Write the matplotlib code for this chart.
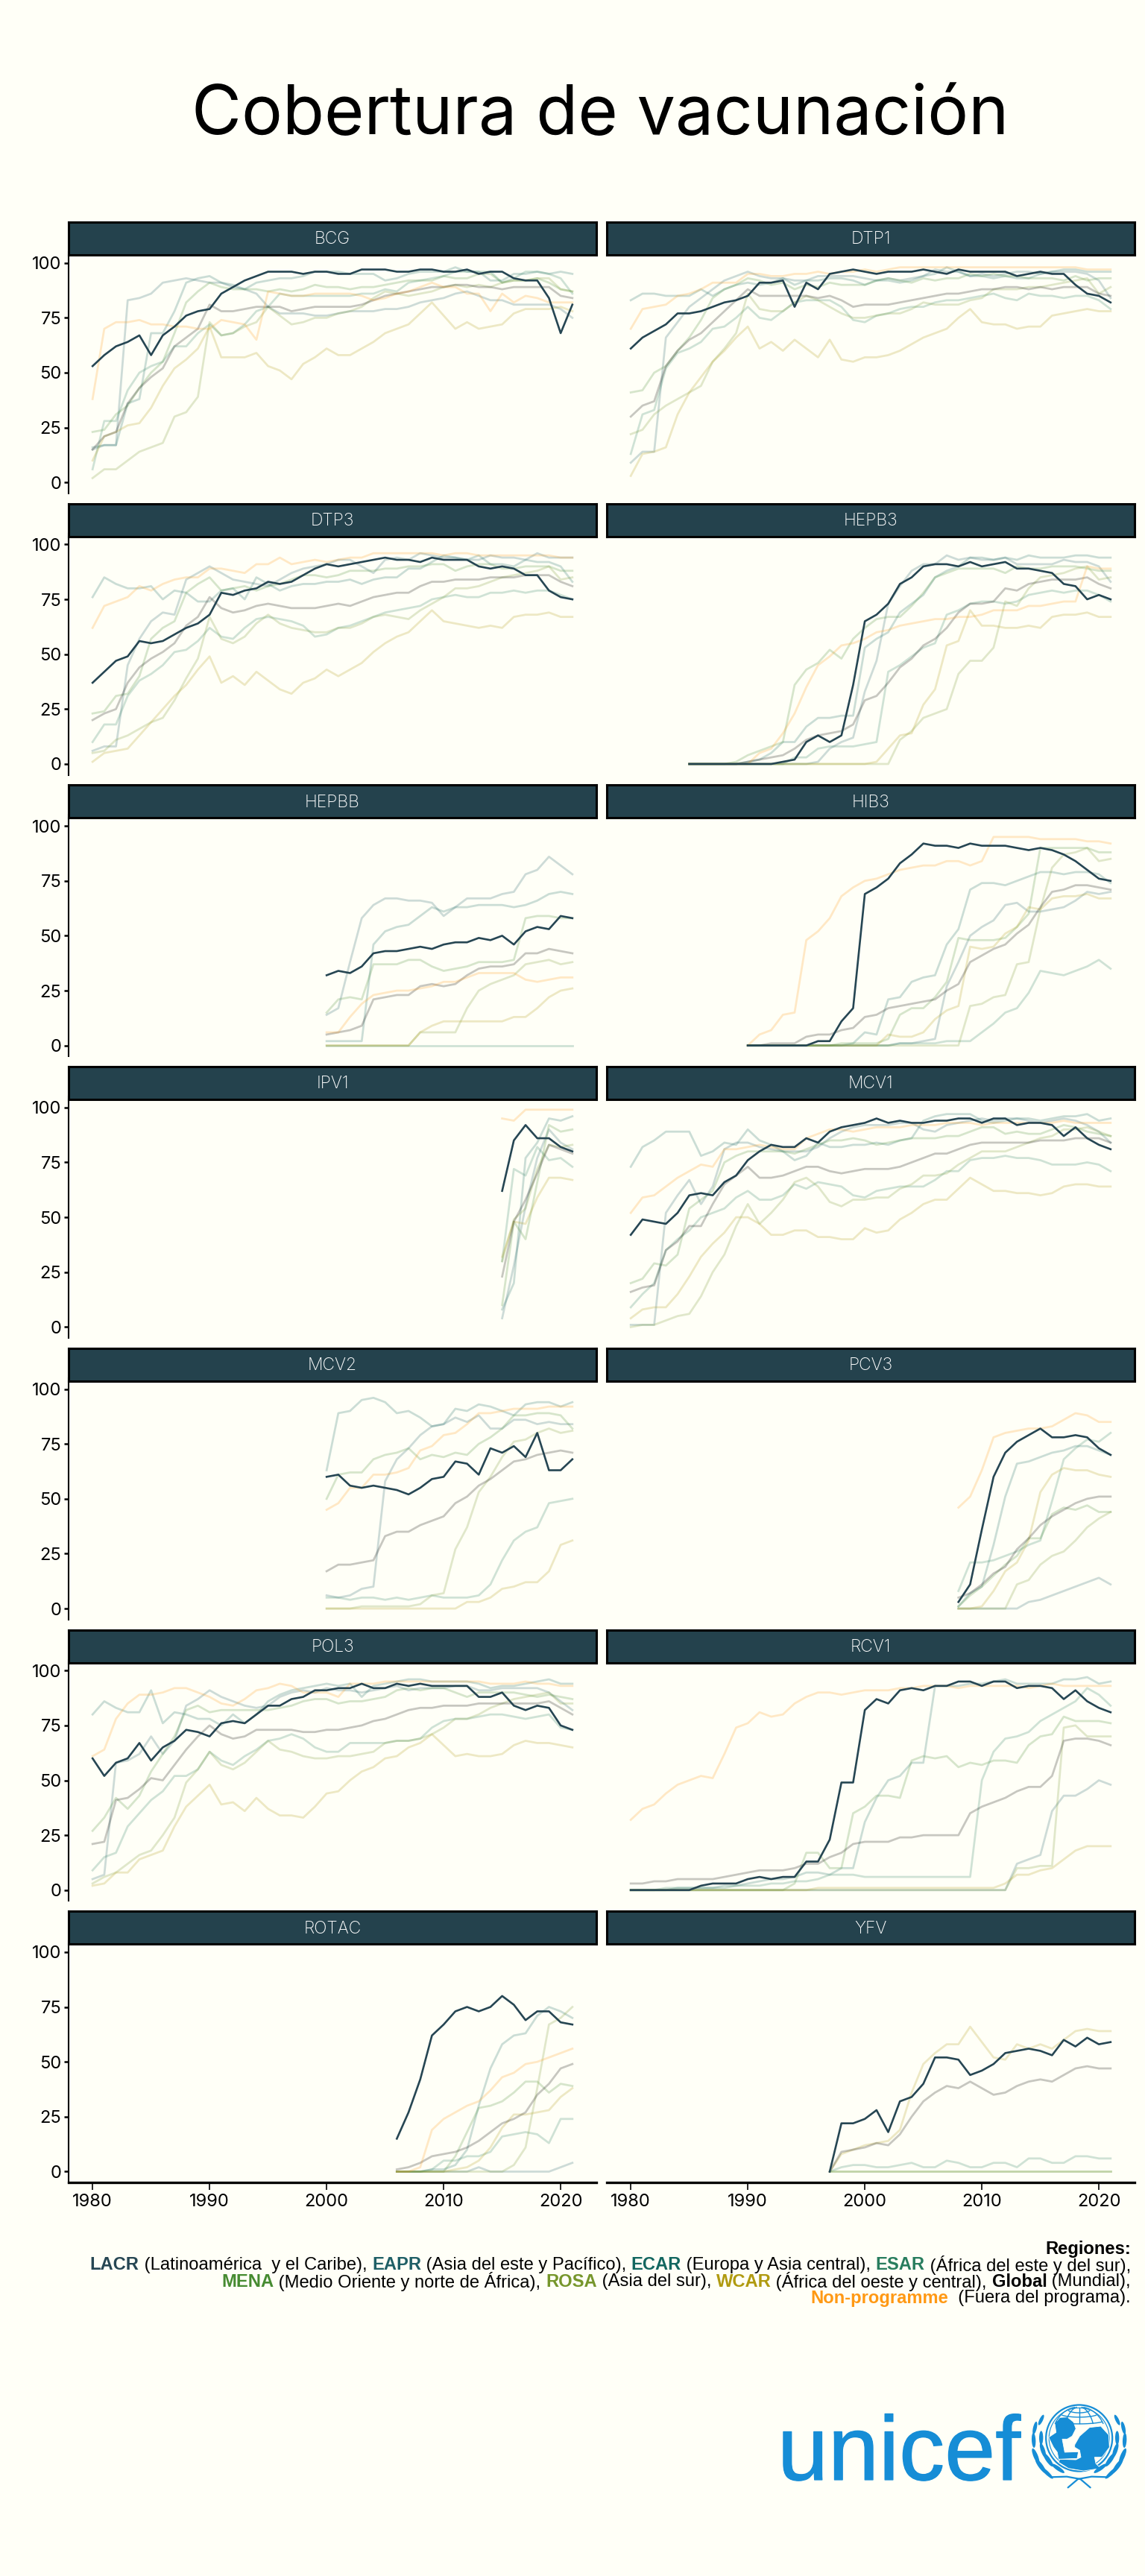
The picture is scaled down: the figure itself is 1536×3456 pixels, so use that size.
import numpy as np
import matplotlib
matplotlib.use("Agg")
import matplotlib.pyplot as plt
import matplotlib.patheffects as pe
from matplotlib.patches import Circle, Ellipse, Polygon

# order of the rows in every panel below
REGIONS = ["EAPR", "ECAR", "ESAR", "MENA", "ROSA", "WCAR", "Global", "Non-programme", "LACR"]
COLORS = ["#1f5f66", "#136760", "#287d5e", "#468b31", "#76962b", "#b09a10", "#000000", "#ff9914", "#264653"]

BCG = [
    [15,17,17,83,84,86,91,92,93,92,91,91,89,88,86,80,77,77,77,76,76,77,78,78,78,79,79,80,82,83,84,86,87,85,83,83,81,81,81,81,79,75],
    [16,17,17,36,38,68,68,78,91,93,94,91,90,88,91,92,93,93,94,96,96,96,95,95,95,92,93,95,96,96,96,98,96,96,92,92,95,95,96,95,96,95],
    [6,28,28,42,50,53,55,62,62,68,72,67,68,72,78,80,86,85,85,85,85,85,85,86,86,88,87,91,92,93,94,96,96,96,96,91,93,96,96,95,93,86],
    [23,24,31,35,43,50,55,68,82,87,91,89,88,88,88,87,88,87,88,90,89,89,88,89,89,90,91,92,92,92,94,93,93,95,95,91,92,92,93,91,88,87],
    [2,6,6,10,14,16,18,30,32,39,73,67,68,71,73,80,76,72,73,75,75,77,78,80,84,87,86,85,86,87,89,90,89,90,89,91,92,92,93,93,88,87],
    [10,21,23,26,27,34,44,52,56,61,71,57,57,57,59,53,51,47,54,57,61,58,58,61,64,68,70,72,77,82,76,70,73,70,71,72,77,79,79,79,80,78],
    [15,21,23,36,43,48,52,62,66,70,81,78,78,79,80,80,80,78,79,80,80,80,80,81,83,85,86,87,88,89,89,90,90,89,89,88,89,89,89,89,85,84],
    [38,70,73,73,74,72,72,71,71,70,70,74,73,72,65,87,86,85,85,86,86,86,86,85,83,84,86,87,89,91,89,89,86,86,78,86,82,85,84,82,82,82],
    [53,58,62,64,67,58,67,71,76,78,79,86,89,92,94,96,96,96,95,96,96,95,95,97,97,97,96,96,97,97,96,96,97,95,96,96,93,92,92,84,68,81],
]
DTP1 = [
    [9,14,14,66,73,80,84,88,92,94,96,94,93,93,92,92,94,94,94,94,93,92,93,92,93,94,97,96,96,94,95,94,95,96,96,95,96,96,96,95,92,84],
    [83,86,86,85,85,85,88,85,88,90,91,90,91,93,90,92,92,93,93,92,90,92,92,91,92,94,95,98,96,94,94,93,94,93,93,95,96,97,97,96,96,96],
    [13,31,33,52,59,61,64,70,71,75,80,75,74,78,82,83,83,83,80,74,73,76,77,79,80,80,82,83,83,84,85,86,84,83,86,85,85,84,85,85,83,79],
    [41,42,50,53,60,66,74,84,88,90,93,92,90,91,88,90,89,91,90,90,90,92,93,92,91,93,92,93,93,95,94,95,94,94,93,93,93,92,94,92,93,93],
    [22,24,31,35,38,41,44,55,61,68,86,79,78,78,82,85,83,80,77,75,75,76,77,77,79,82,81,81,81,83,84,88,88,88,89,89,90,91,92,93,86,89],
    [3,13,14,16,31,41,48,55,60,66,71,61,64,60,65,61,57,65,56,55,57,57,58,60,63,66,68,70,75,79,73,72,72,70,71,71,76,77,78,79,78,78],
    [30,35,37,53,60,65,68,73,78,83,88,85,85,85,85,85,84,85,83,80,81,81,81,82,83,84,85,86,86,87,88,88,89,89,88,89,88,89,89,89,86,85],
    [70,79,80,81,85,86,88,91,91,91,95,95,94,94,95,95,96,95,96,96,97,96,97,98,98,98,98,98,98,98,98,98,98,98,98,98,98,98,98,97,97,97],
    [61,66,69,72,77,77,78,80,82,83,85,91,91,92,80,91,88,95,96,97,96,95,96,96,96,97,96,95,97,96,96,96,96,94,95,96,95,95,90,86,85,82],
]
DTP3 = [
    [6,8,8,45,57,65,69,68,84,87,90,87,84,83,82,81,84,87,89,90,91,93,93,90,87,93,94,93,96,95,94,94,93,93,95,94,94,93,96,94,94,94],
    [76,85,82,80,80,81,75,79,78,74,74,79,80,75,85,82,79,81,82,82,83,83,84,82,84,85,85,89,89,92,95,94,93,95,91,91,90,93,92,92,90,83],
    [10,18,18,31,38,41,45,51,52,56,62,58,57,62,66,67,66,65,63,58,59,62,63,65,67,69,70,71,72,75,76,77,76,76,78,78,79,78,79,79,77,75],
    [23,24,31,32,40,57,62,65,78,82,85,79,80,81,79,81,82,84,86,86,85,86,88,88,88,89,89,90,90,91,91,88,90,91,91,89,89,90,90,90,88,88],
    [5,6,11,13,16,19,21,29,39,48,67,57,55,58,64,68,64,62,61,60,60,62,62,64,67,68,67,66,70,73,76,80,80,81,83,85,86,87,88,90,84,85],
    [1,5,6,7,13,19,25,31,36,43,49,37,40,36,42,38,34,32,37,39,43,40,43,46,51,55,58,60,65,70,65,64,63,62,63,62,67,68,68,69,67,67],
    [20,23,25,37,44,48,51,55,63,67,76,71,69,70,72,73,72,71,71,71,72,73,72,74,76,77,78,78,81,83,83,84,84,84,85,85,85,86,86,86,83,81],
    [62,72,74,76,81,79,82,84,85,85,89,89,88,87,91,91,94,91,92,93,92,93,94,94,96,96,96,96,96,96,95,96,96,95,95,95,95,95,95,95,94,94],
    [37,42,47,49,56,55,56,59,62,64,68,78,77,79,80,83,82,83,86,89,91,90,91,92,93,94,93,93,92,94,93,93,93,90,89,90,89,86,86,79,76,75],
]
HEPB3 = [
    [0,0,0,0,0,0,0,0,0,0,0,1,7,10,12,33,47,73,81,88,91,91,95,93,94,93,93,94,91,91,91,91,93,92,92,90,83],
    [0,0,0,0,0,1,2,5,10,10,17,21,21,22,22,53,57,60,69,73,77,85,88,90,94,94,93,94,93,95,94,94,94,95,95,94,94],
    [0,0,0,0,0,0,0,0,0,3,3,7,8,8,8,9,10,42,45,49,53,55,68,70,73,74,74,73,74,77,78,79,78,79,79,77,74],
    [0,0,0,0,1,4,6,8,10,36,43,46,52,48,57,62,66,67,67,72,78,85,87,89,89,89,89,87,90,89,89,90,90,90,89,88,88],
    [0,0,0,0,0,0,0,0,0,0,0,0,0,0,0,0,0,0,11,15,21,23,25,41,47,47,53,74,72,80,85,86,87,89,90,84,85],
    [0,0,0,0,0,0,0,0,0,0,0,0,0,0,0,0,1,7,13,14,27,34,54,56,70,63,63,62,62,63,62,67,68,68,69,67,67],
    [0,0,0,0,0,1,2,3,4,7,11,13,14,15,18,29,31,37,44,48,54,57,62,69,73,73,74,80,79,82,83,84,84,84,85,82,80],
    [0,0,0,0,0,0,5,7,14,23,35,45,49,54,55,57,60,61,63,64,65,66,66,67,67,68,70,70,70,72,72,73,74,74,90,89,89],
    [0,0,0,0,0,0,0,0,1,2,10,13,10,13,36,65,68,73,82,85,90,91,91,90,92,90,91,92,89,89,88,87,82,81,75,77,75],
]
HEPBB = [
    [14,17,38,58,64,67,67,66,66,65,59,63,67,67,67,69,70,78,80,86,82,78],
    [2,2,2,2,46,52,54,55,59,63,61,63,63,64,64,64,63,64,66,69,70,69],
    [0,0,0,0,0,0,0,0,0,0,0,0,0,0,0,0,0,0,0,0,0,0],
    [15,21,22,21,37,37,37,39,39,36,34,35,36,38,38,38,39,58,59,59,58,58],
    [0,0,0,0,0,0,0,0,6,6,6,6,17,25,28,30,32,37,38,39,37,38],
    [0,0,0,0,0,0,0,0,6,9,11,11,11,11,11,11,13,13,17,22,25,26],
    [5,6,7,9,21,22,23,23,27,28,27,28,32,35,36,36,37,42,42,44,43,42],
    [6,6,13,19,23,24,25,25,26,27,29,29,31,33,33,33,33,30,29,30,31,31],
    [32,34,33,36,42,43,43,44,45,44,46,47,47,49,48,50,46,52,54,53,59,58],
]
HIB3 = [
    [0,0,0,0,0,0,0,0,0,0,0,0,0,1,1,2,3,27,38,50,54,57,64,65,61,61,62,63,66,70,69,70],
    [0,0,0,0,0,0,0,0,0,1,6,5,21,22,29,31,32,46,53,71,74,74,73,75,77,79,79,78,79,79,78,74],
    [0,0,0,0,0,0,0,0,0,0,0,0,0,1,1,1,1,2,2,2,6,10,15,17,24,34,33,32,34,36,39,35],
    [0,0,0,0,0,0,0,0,1,1,1,1,3,14,17,17,22,29,49,48,48,48,49,54,60,90,90,90,90,90,88,88],
    [0,0,0,0,0,0,0,0,0,0,0,0,0,0,0,0,0,0,0,18,19,22,23,37,38,62,81,87,88,90,84,85],
    [0,0,0,0,0,0,0,0,0,0,0,0,5,4,4,6,12,16,18,45,44,45,51,54,63,62,67,68,68,69,67,67],
    [0,0,1,1,1,4,5,5,7,8,13,14,17,18,19,20,21,25,28,38,41,44,46,51,55,63,70,71,73,73,72,71],
    [0,5,7,14,15,48,52,58,68,72,75,76,78,80,81,82,82,84,84,82,84,95,95,95,95,94,94,94,94,93,93,92],
    [0,0,0,0,0,0,2,2,11,17,69,72,76,83,87,92,91,91,90,92,91,91,91,90,89,90,89,87,84,80,76,75],
]
IPV1 = [
    [4,28,55,77,90,84,81],
    [8,20,77,84,95,94,96],
    [30,72,69,82,76,77,73],
    [10,48,40,66,92,89,90],
    [30,49,54,72,83,82,83],
    [32,48,47,59,68,68,67],
    [23,48,58,70,83,81,79],
    [95,94,99,99,99,99,99],
    [62,85,92,86,86,82,80],
]
MCV1 = [
    [1,1,1,52,60,67,56,64,81,84,84,82,81,80,80,80,82,86,89,91,92,92,92,93,93,90,89,92,93,94,95,94,95,95,94,93,94,95,94,92,89,84],
    [73,82,85,89,89,89,78,80,84,83,90,85,83,80,76,78,84,82,82,83,83,84,83,85,86,94,96,97,97,97,94,93,94,95,95,94,95,96,96,97,94,95],
    [9,15,20,35,40,44,50,52,54,59,62,58,58,60,65,63,66,65,64,60,59,62,63,64,64,64,67,71,71,76,77,77,78,77,77,76,74,74,74,75,74,71],
    [20,22,29,28,33,54,58,62,75,78,80,80,80,80,79,81,83,85,85,86,85,83,84,85,86,86,86,87,87,89,91,91,88,89,88,88,90,92,91,89,88,87],
    [0,1,1,3,5,6,14,25,33,46,56,47,52,58,66,68,64,57,55,58,58,59,59,63,65,69,69,70,74,77,80,80,80,82,84,86,87,90,90,91,89,87],
    [4,8,9,9,15,23,32,38,43,50,50,47,42,42,44,44,41,41,40,40,45,43,44,49,52,56,58,58,63,68,65,62,62,61,61,60,61,64,65,65,64,64],
    [16,18,19,35,39,46,46,56,65,69,73,68,68,69,71,73,73,71,70,71,72,72,72,73,75,77,79,79,81,83,84,84,84,84,84,85,85,85,86,86,86,84],
    [52,59,60,64,68,71,74,73,81,81,82,83,82,81,81,86,88,90,90,89,90,91,91,91,92,92,92,93,93,93,92,93,93,93,93,93,93,94,93,93,93,93],
    [42,49,48,47,52,60,61,60,66,69,76,80,83,82,82,86,84,89,91,92,93,95,93,94,93,93,94,94,95,95,93,95,95,92,93,93,92,87,91,86,83,81],
]
MCV2 = [
    [6,5,6,9,10,58,68,73,79,83,84,87,85,88,82,82,86,86,84,85,84,84],
    [63,89,90,95,96,94,89,90,87,83,84,91,90,93,92,90,88,93,94,94,92,94],
    [5,5,4,5,5,4,5,4,5,6,5,5,5,6,11,22,31,35,37,48,49,50],
    [50,61,62,62,68,70,71,73,68,70,69,71,70,75,78,82,88,88,89,89,88,82],
    [0,0,0,1,1,1,1,1,2,6,7,27,37,53,60,69,76,77,80,82,80,81],
    [0,0,0,0,0,0,0,0,0,0,0,0,3,3,5,9,10,12,12,17,29,31],
    [17,20,20,21,22,33,35,35,38,40,42,48,51,56,59,63,67,68,70,71,72,71],
    [45,48,55,55,61,61,62,64,72,74,79,80,84,89,89,90,91,91,91,92,92,92],
    [60,61,56,55,56,55,54,52,55,59,60,67,66,61,73,71,74,69,80,63,63,68],
]
PCV3 = [
    [0,0,0,0,0,0,3,4,6,8,10,12,14,11],
    [1,7,10,29,51,66,67,69,71,72,74,74,72,70],
    [8,21,21,22,24,26,29,31,49,68,73,77,76,80],
    [1,6,10,15,20,24,32,32,43,46,45,47,44,44],
    [0,0,0,0,0,11,13,20,24,26,31,37,41,44],
    [0,0,1,8,17,21,31,53,61,64,63,63,61,60],
    [5,7,11,16,19,27,32,38,42,45,48,50,51,51],
    [46,51,63,78,80,81,82,82,83,86,89,88,85,85],
    [3,11,36,60,71,76,79,82,78,78,79,78,73,70],
]
POL3 = [
    [5,7,58,59,62,70,62,68,84,87,91,88,86,84,83,84,88,90,91,90,92,91,91,90,91,92,93,91,92,92,92,93,93,91,91,92,92,92,92,90,86,82],
    [80,86,83,81,81,91,76,81,80,78,78,75,80,76,80,86,89,91,92,93,94,93,94,88,93,94,95,96,96,95,95,95,95,94,92,93,93,94,95,96,94,94],
    [9,15,17,29,35,41,45,52,52,55,63,59,57,61,64,68,69,71,69,65,63,63,67,67,67,67,68,68,69,74,77,78,78,79,80,80,79,78,79,80,74,73],
    [27,33,42,37,43,54,62,70,82,84,81,82,82,82,82,82,83,84,86,87,87,85,86,86,87,88,91,92,91,92,92,90,88,90,90,90,90,89,88,89,88,87],
    [3,6,8,12,16,18,25,33,49,55,63,57,55,58,63,68,64,63,61,60,60,61,61,62,63,67,68,68,69,71,74,78,78,80,83,85,87,88,89,90,85,85],
    [2,3,8,8,14,16,18,29,38,43,48,39,40,36,42,37,34,34,33,38,44,45,50,54,56,60,61,65,67,71,66,61,62,61,61,62,66,68,67,67,66,65],
    [21,22,41,42,46,51,50,57,64,70,75,71,69,70,73,73,73,73,72,72,73,73,74,75,77,78,80,82,83,83,84,84,84,85,85,85,85,85,85,86,83,80],
    [61,64,78,85,89,89,90,92,92,90,88,85,84,87,91,92,94,93,90,90,90,88,94,94,94,95,95,95,95,95,95,95,95,95,94,94,94,95,94,94,93,93],
    [60,52,58,60,67,59,65,68,73,72,70,76,77,76,80,84,84,87,88,91,91,92,92,94,92,92,94,93,94,93,93,93,93,88,88,90,84,82,84,83,75,73],
]
RCV1 = [
    [0] * 33 + [12,14,16,36,43,43,46,50,48],
    [0,0,0,0,1,1,1,1,2,2,3,4,5,5,6,8,8,7,10,10,31,42,50,52,58,58,93,93,93,94,94,95,96,94,94,94,94,96,96,97,94,95],
    [0,0,0,1,1,1,1,1,1,2,2,2,3,3,4,4,5,7,7,7,6,6,6,6,6,6,6,6,6,6,50,63,69,70,72,77,80,83,86,92,89,84],
    [0,0,0,0,0,0,0,0,0,0,0,0,0,0,3,17,17,10,10,35,38,43,43,42,59,61,60,61,56,58,57,59,59,58,66,70,71,79,77,77,77,76],
    [0] * 33 + [10,10,11,11,74,75,70,70,70],
    [0] * 16 + [1] * 16 + [3,7,7,9,10,14,18,20,20,20],
    [3,3,4,4,5,5,5,5,6,7,8,9,9,9,10,12,12,15,17,21,22,22,22,24,24,25,25,25,25,35,38,40,42,45,47,47,52,68,69,69,68,66],
    [32,37,39,44,48,50,52,51,62,74,76,81,79,80,85,88,90,90,89,90,91,91,91,92,92,93,93,93,92,93,93,93,93,93,92,93,94,93,93,93,93,93],
    [0,0,0,0,0,0,2,3,3,3,5,6,5,6,6,13,13,23,49,49,82,87,85,91,92,91,93,93,95,95,93,95,95,92,93,93,92,87,91,86,83,81],
]
ROTAC = [
    [0,0,0,0,0,0,0,2,0,0,0,0,0,0,2,4],
    [0,0,0,1,1,3,10,30,47,58,62,63,71,75,73,70],
    [0,0,0,1,5,5,7,7,9,16,17,18,17,13,24,24],
    [0,0,0,0,0,7,18,29,30,32,36,41,41,36,40,39],
    [0,0,0,0,0,0,0,0,0,0,3,11,38,67,70,75],
    [0,0,0,0,0,1,2,5,11,20,26,26,27,28,34,38],
    [1,2,4,7,8,9,11,14,18,22,24,27,35,40,47,49],
    [0,0,2,19,24,27,30,32,37,43,45,49,50,52,54,56],
    [15,27,42,62,67,73,75,73,75,80,76,69,73,73,68,67],
]
YFV = [
    [],
    [],
    [0,2,3,3,2,2,3,4,2,2,5,4,2,2,4,4,2,6,6,4,4,7,7,6,6],
    [0] * 25,
    [0] * 25,
    [0,8,10,12,13,14,19,36,49,54,58,58,66,59,52,51,58,56,58,56,60,64,65,64,64],
    [0,9,10,11,13,12,17,25,32,36,39,38,41,38,35,36,39,41,42,41,44,47,48,47,47],
    [],
    [0,22,22,24,28,18,32,34,40,52,52,51,44,46,49,54,55,56,55,53,60,57,61,58,59],
]

VACCINES = ["BCG", "DTP1", "DTP3", "HEPB3", "HEPBB", "HIB3", "IPV1",
            "MCV1", "MCV2", "PCV3", "POL3", "RCV1", "ROTAC", "YFV"]
PANELS = [BCG, DTP1, DTP3, HEPB3, HEPBB, HIB3, IPV1, MCV1, MCV2, PCV3, POL3, RCV1, ROTAC, YFV]
X_TICKS = [1980, 1990, 2000, 2010, 2020]
Y_TICKS = [0, 25, 50, 75, 100]

W, H = 1536, 3456
BG = "#fffff7"
STRIP = "#24424d"
FONT = "Inter"


def px_axes(fig, x0, y0, x1, y1):
    # axes from pixel box, y counted from the top of the picture
    return fig.add_axes([x0 / W, 1 - y1 / H, (x1 - x0) / W, (y1 - y0) / H])


fig = plt.figure(figsize=(W / 100, H / 100), dpi=100, facecolor=BG)

for i, (name, rows) in enumerate(zip(VACCINES, PANELS)):
    col = i % 2
    row = i // 2
    x0 = 92 if col == 0 else 814
    top = 298 + row * 377.7

    ax = px_axes(fig, x0, top + 40, x0 + 708, top + 364)
    ax.set_facecolor("none")
    for values, color, region in zip(rows, COLORS, REGIONS):
        years = np.arange(2022 - len(values), 2022)
        if region == "LACR":
            ax.plot(years, values, color=color, lw=1.9, zorder=5)
        else:
            ax.plot(years, values, color=color, lw=2.0, alpha=0.22, zorder=3)
    ax.set_xlim(1977.95, 2023.05)
    ax.set_ylim(-5, 105)
    ax.set_xticks(X_TICKS)
    ax.set_yticks(Y_TICKS)
    for s in ("top", "right"):
        ax.spines[s].set_visible(False)
    ax.spines["left"].set_linewidth(1.5)
    ax.spines["bottom"].set_linewidth(2.4)
    ax.spines["left"].set_visible(col == 0)
    ax.spines["bottom"].set_visible(row == 6)
    ax.tick_params(axis="y", left=col == 0, labelleft=col == 0, length=4, width=1.8,
                   labelsize=17, pad=3)
    ax.tick_params(axis="x", bottom=row == 6, labelbottom=row == 6, length=7, width=1.2,
                   labelsize=17, pad=4)
    for label in ax.get_xticklabels() + ax.get_yticklabels():
        label.set_family(FONT)
        label.set_fontweight("normal")

    strip = px_axes(fig, x0, top, x0 + 708, top + 44)
    strip.set_facecolor(STRIP)
    strip.set_xticks([])
    strip.set_yticks([])
    for s in strip.spines.values():
        s.set_linewidth(2.2)
        s.set_color("black")
    strip.text(0.5, 0.47, name, color="white", ha="center", va="center",
               fontsize=16.5, family=FONT, fontweight="light", transform=strip.transAxes)

# whole picture overlay for title, legend note and logo, in pixels
over = fig.add_axes([0, 0, 1, 1], zorder=10)
over.set_xlim(0, W)
over.set_ylim(H, 0)
over.axis("off")

over.text(805, 156, "Cobertura de vacunación", ha="center", va="center",
          fontsize=66, family=FONT, color="black")

renderer = fig.canvas.get_renderer()
LEGEND_FONT = "Liberation Sans"
LEGEND_SIZE = 17.1
LEGEND_RIGHT = 1517
LEGEND_LINES = [
    (3015, [("Regiones:", "black", True)]),
    (3036, [("LACR", COLORS[8], True), (" (Latinoamérica  y el Caribe), ", "black", False),
            ("EAPR", COLORS[0], True), (" (Asia del este y Pacífico), ", "black", False),
            ("ECAR", COLORS[1], True), (" (Europa y Asia central), ", "black", False),
            ("ESAR", COLORS[2], True), (" (África del este y del sur),", "black", False)]),
    (3059, [("MENA", COLORS[3], True), (" (Medio Oriente y norte de África), ", "black", False),
            ("ROSA", COLORS[4], True), (" (Asia del sur), ", "black", False),
            ("WCAR", COLORS[5], True), (" (África del oeste y central), ", "black", False),
            ("Global", "black", True), (" (Mundial),", "black", False)]),
    (3081, [("Non-programme", COLORS[7], True), ("  (Fuera del programa).", "black", False)]),
]


def seg_width(text, bold):
    # measure with guards so that edge spaces count
    weight = "bold" if bold else "normal"
    t = over.text(0, 0, "|" + text + "|", fontsize=LEGEND_SIZE, family=LEGEND_FONT, fontweight=weight)
    g = over.text(0, 0, "||", fontsize=LEGEND_SIZE, family=LEGEND_FONT, fontweight=weight)
    w = t.get_window_extent(renderer).width - g.get_window_extent(renderer).width
    t.remove()
    g.remove()
    return w


for y, parts in LEGEND_LINES:
    cursor = LEGEND_RIGHT
    for text, color, bold in reversed(parts):
        cursor -= seg_width(text, bold)
        over.text(cursor, y, text, ha="left", va="center_baseline", fontsize=LEGEND_SIZE,
                  family=LEGEND_FONT, color=color, fontweight="bold" if bold else "normal")

# unicef logo
BLUE = "#168dd6"
over.text(1043, 3327, "unicef", ha="left", va="baseline", fontsize=88,
          family="Liberation Sans", color=BLUE,
          path_effects=[pe.withStroke(linewidth=0.9, foreground=BLUE)])


def lx(z):
    return 1020 + z / 3


def ly(z):
    return 3200 + z / 3


cx, cy = lx(1283), ly(213)
over.add_patch(Circle((cx, cy), 44.5, fc="none", ec=BLUE, lw=1.6))
over.add_patch(Circle((cx, cy), 40.5, fc="none", ec=BLUE, lw=0.8))

# globe grid, upper part only
for lam in (-60, -30, 0, 30, 60):
    phi = np.radians(np.linspace(28, 80, 20))
    over.plot(cx + 42 * np.cos(phi) * np.sin(np.radians(lam)), cy - 42 * np.sin(phi),
              color=BLUE, lw=1.0)
for lat in (35, 52, 68):
    lon = np.radians(np.linspace(-62, 62, 30))
    over.plot(cx + 42 * np.cos(np.radians(lat)) * np.sin(lon),
              cy - 42 * np.sin(np.radians(lat)) + 5 * np.cos(lon),
              color=BLUE, lw=1.0)

child = [(1160, 210), (1190, 190), (1185, 155), (1205, 130), (1235, 128), (1260, 148),
         (1270, 175), (1255, 205), (1235, 217), (1215, 217), (1225, 270), (1280, 268),
         (1275, 295), (1200, 298), (1195, 270), (1180, 250)]
mother = [(1265, 240), (1285, 205), (1325, 170), (1370, 165), (1402, 200), (1405, 250),
          (1375, 290), (1345, 290), (1350, 315), (1370, 335), (1300, 345), (1240, 335),
          (1200, 310), (1205, 298), (1270, 300), (1290, 290), (1285, 262), (1265, 250)]
for shape in (child, mother):
    over.add_patch(Polygon([(lx(a), ly(b)) for a, b in shape], closed=True, fc=BLUE, ec=BG, lw=0.6))

leaves = [(1130, 140, 46, 14), (1105, 172, 52, 15), (1130, 212, 56, 16), (1100, 222, 60, 16),
          (1137, 262, 60, 17), (1108, 285, 66, 18), (1158, 300, 66, 18), (1128, 325, 70, 18),
          (1198, 335, 62, 16), (1152, 352, 70, 15)]
for a, b, length, thick in leaves:
    for side in (-1, 1):
        ex = lx(1283 + side * (a - 1283))
        ey = ly(b)
        ang = np.degrees(np.arctan2(ey - cy, ex - cx)) + 90
        over.add_patch(Ellipse((ex, ey), length / 3, thick / 3, angle=ang, fc=BLUE, ec="none"))
for side in (-1, 1):
    stem_x = [lx(1283 + side * 115), lx(1283 + side * 50), lx(1283 - side * 5), lx(1283 - side * 45)]
    stem_y = [ly(370), ly(368), ly(378), ly(412)]
    over.plot(stem_x, stem_y, color=BLUE, lw=1.6, solid_capstyle="round")

fig.savefig("out.png", dpi=100, facecolor=BG)
